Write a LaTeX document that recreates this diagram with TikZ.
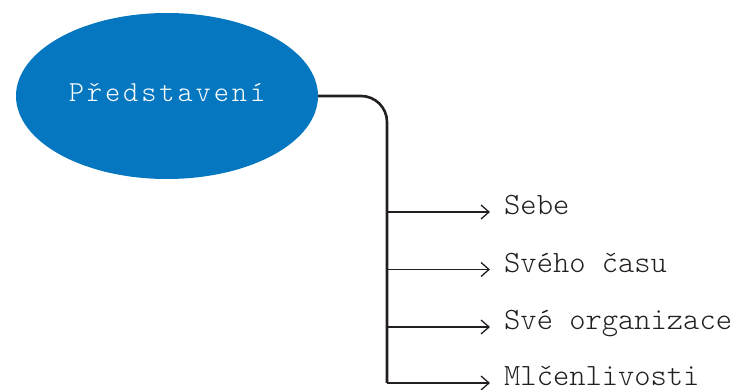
\documentclass[tikz,border=0pt]{standalone}
\usepackage{fontspec}
\usepackage{tikz}
\usetikzlibrary{positioning,arrows.meta,shapes.geometric}
\newfontfamily\slabfont{lmmonolt10-regular.otf}
\newfontfamily\slabwide{lmmonolt10-regular.otf}[LetterSpace=10]
\definecolor{hubblue}{HTML}{0477C0}
\definecolor{ink}{HTML}{231F20}
\tikzset{
  hub/.style  ={ellipse, fill=hubblue, minimum width=302pt, minimum height=166pt,
                inner sep=0pt, text=white, text height=18pt, text depth=6pt,
                font=\slabwide\fontsize{29}{34}\selectfont},
  item/.style ={anchor=base west, inner sep=0pt, text=ink,
                font=\slabfont\fontsize{31}{36}\selectfont},
  trunk/.style={draw=ink, line width=2.6pt},
  % one branch off the trunk, ending short of its label
  twig/.style ={draw=ink, line width=1.3pt, shorten >=14pt,
                -{Straight Barb[length=8pt,width=14pt]}},
}

\begin{document}
\begin{tikzpicture}[x=1pt,y=-1pt]
\useasboundingbox (0,0) rectangle (740,390);
\node[hub] (hub) at (167,96) {Představení};
\foreach \n/\y/\t in {1/212/Sebe, 2/269.5/Svého času,
                      3/327/Své organizace, 4/383/Mlčenlivosti}
  {\coordinate (j\n) at (387,\y);
   \node[item] (i\n) at (504,\y+3) {\t};}
\draw[trunk, rounded corners=26pt] (hub.east) -| (j4);
\foreach \n in {1,...,4}
  {\draw[twig] (j\n) -- (j\n -| i\n.west);}
\end{tikzpicture}
\end{document}
